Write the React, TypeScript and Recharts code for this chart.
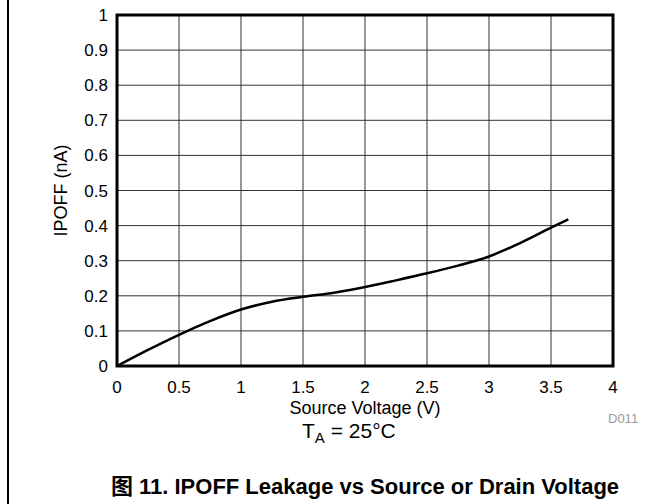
import { CartesianGrid, Line, LineChart, ReferenceArea, XAxis, YAxis } from 'recharts';

// source voltage (V) and leakage current IPOFF (nA)
const voltage = [0, 0.25, 0.5, 0.75, 1, 1.25, 1.5, 1.75, 2, 2.25, 2.5, 2.75, 3, 3.25, 3.5, 3.64];
const ipoff = [0, 0.046, 0.089, 0.128, 0.161, 0.183, 0.197, 0.209, 0.225, 0.244, 0.264, 0.286, 0.312, 0.35, 0.394, 0.418];

const xTicks = [0, 0.5, 1, 1.5, 2, 2.5, 3, 3.5, 4];
const yTicks = [0, 0.1, 0.2, 0.3, 0.4, 0.5, 0.6, 0.7, 0.8, 0.9, 1];

const FONT = '"Liberation Sans", Arial, "Noto Sans CJK SC", sans-serif';

function App() {
  const data = voltage.map((v, i) => ({ v, i: ipoff[i] }));

  return (
    <div style={{ position: 'relative', width: 671, height: 504, background: '#fff', fontFamily: FONT }}>
      <style>{'body{margin:0}'}</style>
      <div style={{ position: 'absolute', left: 7, top: 0, width: 2, height: 504, background: '#000' }} />
      <LineChart width={671} height={504} data={data} margin={{ top: 15, right: 58, bottom: 108, left: 57 }}>
        <CartesianGrid stroke="#333" strokeWidth={1} />
        <XAxis
          type="number"
          dataKey="v"
          domain={[0, 4]}
          ticks={xTicks}
          interval={0}
          height={30}
          tickLine={false}
          axisLine={false}
          tickMargin={9}
          tick={{ fill: '#000', fontSize: 17, fontFamily: FONT }}
          label={{ value: 'Source Voltage (V)', position: 'bottom', offset: 5, fill: '#000', fontSize: 18, fontFamily: FONT }}
        />
        <YAxis
          type="number"
          domain={[0, 1]}
          ticks={yTicks}
          interval={0}
          width={60}
          tickLine={false}
          axisLine={false}
          tickMargin={3}
          tick={{ fill: '#000', fontSize: 17, fontFamily: FONT }}
          label={{ value: 'IPOFF (nA)', angle: -90, position: 'insideLeft', offset: 4, fill: '#000', fontSize: 18, fontFamily: FONT, style: { textAnchor: 'middle' } }}
        />
        <ReferenceArea x1={0} x2={4} y1={0} y2={1} fill="none" stroke="#000" strokeWidth={3} fillOpacity={0} />
        <Line type="monotone" dataKey="i" stroke="#000" strokeWidth={2.5} dot={false} isAnimationActive={false} />
      </LineChart>
      <svg width={671} height={504} style={{ position: 'absolute', left: 0, top: 0, pointerEvents: 'none' }}>
        <text x={608} y={423} fontSize={13} fill="#999" fontFamily={FONT}>D011</text>
        <text x={302} y={438} fontSize={21} fill="#000" fontFamily={FONT}>
          T<tspan fontSize={15} dy={5}>A</tspan>
          <tspan dy={-5}> = 25°C</tspan>
        </text>
        <text x={365} y={494} fontSize={22} fontWeight="bold" textAnchor="middle" fill="#000" fontFamily={FONT}>
          图 11. IPOFF Leakage vs Source or Drain Voltage
        </text>
      </svg>
    </div>
  );
}

export default App;
